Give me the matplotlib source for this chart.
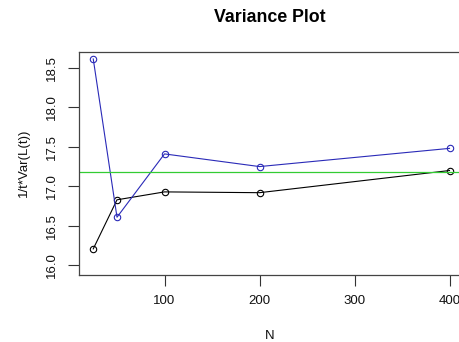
import matplotlib
matplotlib.use("Agg")
import matplotlib.pyplot as plt

# -----------------------------
# Data
# -----------------------------
n_values = [25, 50, 100, 200, 400]
var_black = [16.21, 16.83, 16.93, 16.92, 17.20]
var_blue = [18.61, 16.61, 17.41, 17.25, 17.48]
ref_level = 17.18

x_ticks = [100, 200, 300, 400]
y_ticks = [16.0, 16.5, 17.0, 17.5, 18.0, 18.5]

plt.rcParams["font.family"] = ["Liberation Sans", "DejaVu Sans"]

# -----------------------------
# Figure
# -----------------------------
W, H = 459, 342
fig = plt.figure(figsize=(W / 100, H / 100), dpi=100)
left, top, bottom = 79, 52, 274.5
width = 405 * 0.95
ax = fig.add_axes([left / W, 1 - bottom / H, width / W, (bottom - top) / H])

ax.plot(n_values, var_black, color="black", lw=0.8, marker="o", ms=4.6,
        mfc="none", mew=0.8)
ax.plot(n_values, var_blue, color="#2a2ab8", lw=0.8, marker="o", ms=4.6,
        mfc="none", mew=0.8)
ax.axhline(ref_level, color="#33cc33", lw=0.9)

ax.set_xlim(10, 415)
ax.set_ylim(15.886, 18.698)
ax.set_xticks(x_ticks)
ax.set_yticks(y_ticks)
ax.set_yticklabels([f"{v:.1f}" for v in y_ticks], rotation=90, va="center")
ax.tick_params(direction="out", length=8, width=0.8, labelsize=9.5,
               colors="#333333", labelcolor="#111111", pad=7)

for s in ax.spines.values():
    s.set_color("#444444")
    s.set_linewidth(0.9)

fig.text(270 / W, 1 - 17 / H, "Variance Plot", ha="center", va="center",
         fontsize=12.8, fontweight="bold")
fig.text(270 / W, 1 - 336 / H, "N", ha="center", va="center", fontsize=9.5,
         color="#111111")
fig.text(24 / W, 1 - 163 / H, "1/t*Var(L(t))", ha="center", va="center",
         rotation=90, fontsize=9.5, color="#111111")

fig.savefig("out.png", dpi=100)
